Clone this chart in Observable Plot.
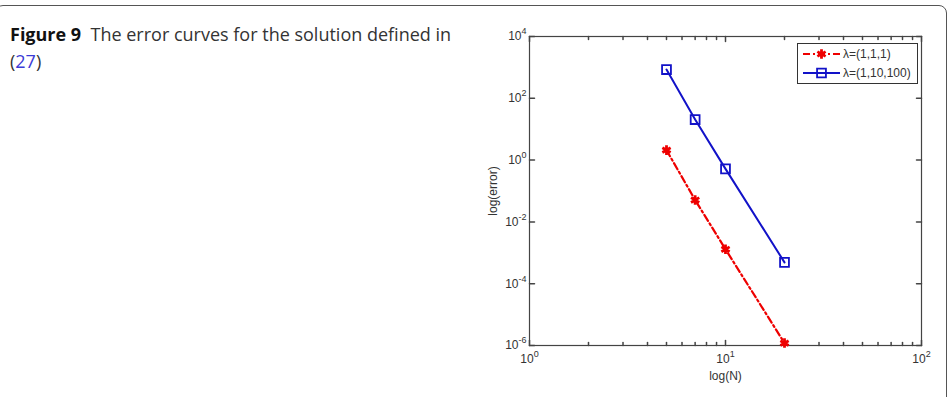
<!DOCTYPE html>
<html>
<head>
<meta charset="utf-8">
<script src="https://cdn.jsdelivr.net/npm/d3@7"></script>
<script src="https://cdn.jsdelivr.net/npm/@observablehq/plot@0.6"></script>
<style>
  html, body { margin: 0; padding: 0; background: #fff; width: 950px; height: 397px; overflow: hidden; }
  #card { position: absolute; left: -5px; top: 5px; width: 952px; height: 500px; border: 1px solid #555; border-radius: 8px; box-sizing: border-box; }
  #caption { position: absolute; left: 10px; top: 21px; width: 470px; font-family: "Open Sans", sans-serif; font-size: 18px; line-height: 27px; color: #333; }
  #caption div { white-space: nowrap; }
  #caption b { color: #111; font-weight: 700; }
  #caption a { color: #3b3bd6; text-decoration: none; }
  #chart { position: absolute; left: 470px; top: 20px; }
  #legend { position: absolute; left: 797px; top: 43px; }
</style>
</head>
<body>
<div id="card"></div>
<div id="caption"><div><b>Figure 9</b>&nbsp; The error curves for the solution defined in</div><div>(<a>27</a>)</div></div>
<div id="chart"></div>
<div id="legend"></div>
<script>
// ---- data ----
const N = [5, 7, 10, 20];
const err111 = [2.1, 0.051, 1.3e-3, 1.2e-6];
const err110100 = [850, 20.5, 0.52, 4.9e-4];
const seriesNames = ["λ=(1,1,1)", "λ=(1,10,100)"];
const xMajor = [1, 10, 100];
const xMinor = [2, 3, 4, 5, 6, 7, 8, 9, 20, 30, 40, 50, 60, 70, 80, 90];
const yTicks = [1e-6, 1e-4, 1e-2, 1, 1e2, 1e4];

const RED = "#ee0000";
const BLUE = "#1212c8";
const FRAME = "#444";

const d111 = N.map((n, i) => ({N: n, err: err111[i]}));
const d110 = N.map((n, i) => ({N: n, err: err110100[i]}));

const tickShape = {draw(context, l) { context.moveTo(0, 0); context.lineTo(0, -l); }};
const fmt = d => "10^" + Math.round(Math.log10(d));

const plot = Plot.plot({
  width: 480,
  height: 377,
  marginLeft: 59,
  marginRight: 29,
  marginTop: 16,
  marginBottom: 52,
  style: {fontFamily: "'Liberation Sans', Arial, sans-serif", fontSize: "12px", color: "#333", background: "transparent"},
  x: {type: "log", domain: [1, 100]},
  y: {type: "log", domain: [1e-6, 1e4]},
  marks: [
    Plot.axisX(xMajor, {tickSize: 0, tickPadding: 9, tickFormat: fmt, label: "log(N)", labelAnchor: "center", labelArrow: "none", labelOffset: 34, fontSize: 12}),
    Plot.axisY(yTicks, {tickSize: 0, tickPadding: 3, tickFormat: fmt, label: "log(error)", labelAnchor: "center", labelArrow: "none", labelOffset: 41, fontSize: 12}),
    // inside ticks (MATLAB style, on all four sides)
    Plot.vector(xMajor, {x: d => d, frameAnchor: "bottom", length: 5, rotate: 0, anchor: "start", shape: tickShape, stroke: FRAME}),
    Plot.vector(xMajor, {x: d => d, frameAnchor: "top", length: 5, rotate: 180, anchor: "start", shape: tickShape, stroke: FRAME}),
    Plot.vector(xMinor, {x: d => d, frameAnchor: "bottom", length: 3, rotate: 0, anchor: "start", shape: tickShape, stroke: FRAME}),
    Plot.vector(xMinor, {x: d => d, frameAnchor: "top", length: 3, rotate: 180, anchor: "start", shape: tickShape, stroke: FRAME}),
    Plot.vector(yTicks, {y: d => d, frameAnchor: "left", length: 5, rotate: 90, anchor: "start", shape: tickShape, stroke: FRAME}),
    Plot.vector(yTicks, {y: d => d, frameAnchor: "right", length: 5, rotate: -90, anchor: "start", shape: tickShape, stroke: FRAME}),
    Plot.frame({stroke: FRAME, strokeWidth: 1.2}),
    Plot.line(d111, {x: "N", y: "err", stroke: RED, strokeWidth: 2.2, strokeDasharray: "7,3,2,3"}),
    Plot.dot(d111, {x: "N", y: "err", symbol: "asterisk", r: 4.5, stroke: RED, strokeWidth: 2.8}),
    Plot.line(d110, {x: "N", y: "err", stroke: BLUE, strokeWidth: 2}),
    Plot.dot(d110, {x: "N", y: "err", symbol: "square", r: 5, stroke: BLUE, fill: "none", strokeWidth: 1.8})
  ]
});

// superscript exponents in tick labels
plot.querySelectorAll("text").forEach(t => {
  const m = /^10\^(-?\d+)$/.exec(t.textContent);
  if (m) {
    t.textContent = "10";
    const ts = document.createElementNS("http://www.w3.org/2000/svg", "tspan");
    ts.setAttribute("dy", "-6");
    ts.setAttribute("font-size", "9");
    ts.textContent = m[1];
    t.appendChild(ts);
  }
});
document.getElementById("chart").appendChild(plot);

// legend
const lg = d3.select("#legend").append("svg").attr("width", 122).attr("height", 42)
  .style("font-family", "'Liberation Sans', Arial, sans-serif").style("font-size", "12px");
lg.append("rect").attr("x", 0.5).attr("y", 0.5).attr("width", 120).attr("height", 40)
  .attr("fill", "#fff").attr("stroke", "#333");
const rows = [
  {name: seriesNames[0], color: RED, dash: "7,3,2,3", sym: d3.symbolAsterisk, fill: "none", sw: 2.8, size: Math.PI * 4.5 * 4.5},
  {name: seriesNames[1], color: BLUE, dash: null, sym: d3.symbolSquare, fill: "none", sw: 1.8, size: Math.PI * 25}
];
rows.forEach((r, i) => {
  const y = 11 + i * 19;
  lg.append("line").attr("x1", 6).attr("x2", 43).attr("y1", y).attr("y2", y)
    .attr("stroke", r.color).attr("stroke-width", 2).attr("stroke-dasharray", r.dash);
  lg.append("path").attr("transform", `translate(24.5,${y})`)
    .attr("d", d3.symbol(r.sym, r.size)()).attr("stroke", r.color).attr("fill", r.fill).attr("stroke-width", r.sw);
  lg.append("text").attr("x", 46).attr("y", y).attr("dy", "0.35em").attr("fill", "#333").text(r.name);
});
</script>
</body>
</html>
